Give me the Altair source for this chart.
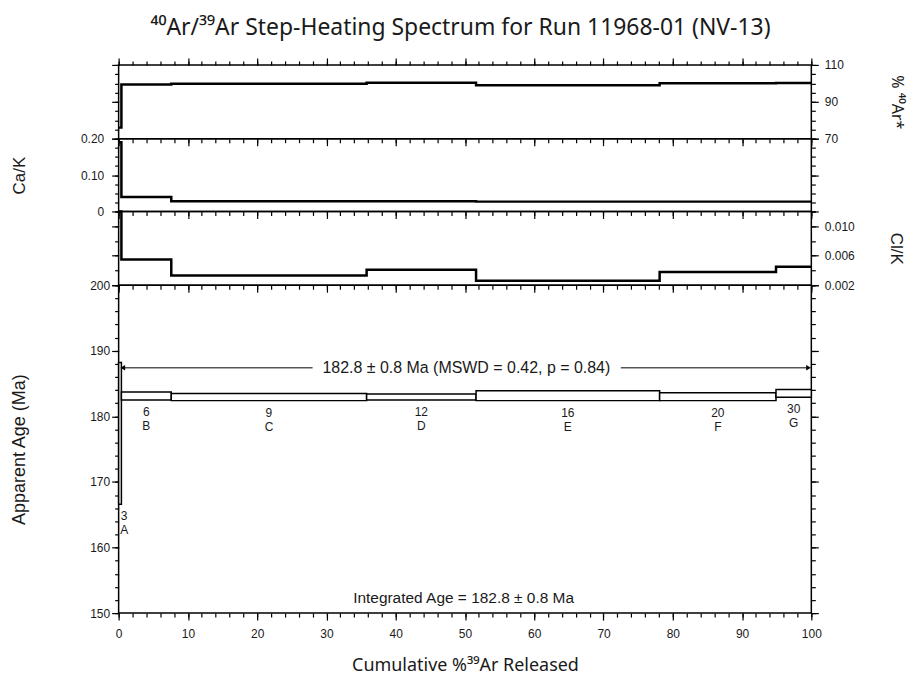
import altair as alt
import pandas as pd

# ---------------- data ----------------
step_letters = ["A", "B", "C", "D", "E", "F", "G"]
step_numbers = ["3", "6", "9", "12", "16", "20", "30"]
cum_start = [0.0, 0.4, 7.6, 35.8, 51.6, 78.1, 94.9]
cum_end = [0.4, 7.6, 35.8, 51.6, 78.1, 94.9, 100.0]
pct_rad = [76.0, 99.4, 99.8, 100.3, 99.0, 100.1, 100.2]          # % 40Ar*
ca_k = [0.19, 0.040, 0.028, 0.028, 0.027, 0.027, 0.027]            # Ca/K
cl_k = [0.012, 0.0055, 0.0033, 0.0041, 0.0026, 0.0038, 0.0045]     # Cl/K
age_low = [166.6, 182.5, 182.4, 182.5, 182.4, 182.4, 182.9]        # Ma (-2 sigma)
age_high = [188.2, 183.7, 183.5, 183.4, 183.9, 183.6, 184.1]       # Ma (+2 sigma)

plateau_age, plateau_err, plateau_mswd, plateau_p = 182.8, 0.8, 0.42, 0.84
integrated_age, integrated_err = 182.8, 0.8

# tick values
x_minor = list(range(0, 101, 2))
x_major = list(range(0, 101, 10))
pct_minor = list(range(70, 111, 5))
pct_major = [70, 90, 110]
cak_minor = [0.0, 0.025, 0.05, 0.075, 0.1, 0.125, 0.15, 0.175, 0.2]
cak_major = [0.0, 0.1, 0.2]
clk_minor = [0.002, 0.004, 0.006, 0.008, 0.010, 0.012]
clk_major = [0.002, 0.006, 0.010]
age_minor = list(range(150, 201, 2))
age_major = list(range(150, 201, 10))

# annotation anchor positions (data units)
PLATEAU_Y = 187.4
PLATEAU_TEXT_X = 50.2
ARROW_LEFT = (28.0, 0.6)
ARROW_RIGHT = (72.5, 99.6)
INTEGRATED_X, INTEGRATED_Y = 49.8, 152.3

# ---------------- style ----------------
FONT = "Liberation Sans"
SUP_FONT = "Noto Sans"          # has proper superscript digits
INK = "#1a1a1a"
W = 695
H_PCT, H_CAK, H_CLK, H_AGE = 74, 73, 74, 329
MINOR, MAJOR = 4, 7

xs = alt.Scale(domain=[0, 100], nice=False, zero=False)


def axis(orient, values, size, labels=False, pad=2, fmt=None, label_expr=None,
         title=None, title_x=None, title_y=None, title_angle=None, title_size=17,
         title_font=FONT):
    kw = dict(orient=orient, values=values, tickSize=size, tickColor="black",
              tickWidth=1.2, domain=False, grid=False, labels=labels,
              labelFlush=False, labelFont=FONT, labelFontSize=12,
              labelColor=INK, labelPadding=pad, title=title)
    if fmt is not None:
        kw["format"] = fmt
    if label_expr is not None:
        kw["labelExpr"] = label_expr
    if title is not None:
        kw.update(titleX=title_x, titleY=title_y, titleAngle=title_angle,
                  titleFont=title_font, titleFontSize=title_size,
                  titleFontWeight="normal", titleColor=INK,
                  titleAlign="center", titleBaseline="middle")
    return alt.Axis(**kw)


def ghost(df, ys, xaxis, yaxis):
    return alt.Chart(df).mark_point(opacity=0).encode(
        x=alt.X("x:Q", scale=xs, axis=xaxis),
        y=alt.Y("y:Q", scale=ys, axis=yaxis),
    )


def step_df(values):
    return pd.DataFrame({"x": cum_start + [cum_end[-1]],
                         "y": values + [values[-1]]})


def step_line(df, ys):
    return alt.Chart(df).mark_line(
        interpolate="step-after", color="black", strokeWidth=2.5
    ).encode(
        x=alt.X("x:Q", scale=xs, axis=None),
        y=alt.Y("y:Q", scale=ys, axis=None),
    )


# ---------------- panel 1 : % 40Ar* ----------------
ys_pct = alt.Scale(domain=[70, 110], nice=False, zero=False)
df_pct = step_df(pct_rad)
p1 = alt.layer(
    step_line(df_pct, ys_pct),
    ghost(df_pct, ys_pct, axis("top", x_minor, MINOR), axis("left", pct_minor, MINOR)),
    ghost(df_pct, ys_pct, axis("top", x_major, MAJOR), axis("left", pct_major, MAJOR)),
    ghost(df_pct, ys_pct, axis("bottom", x_minor, MINOR), axis("right", pct_minor, MINOR)),
    ghost(df_pct, ys_pct, axis("bottom", x_major, MAJOR),
          axis("right", pct_major, MAJOR, labels=True, pad=6, fmt="d",
               title="% ⁴⁰Ar*", title_x=85, title_y=H_PCT / 2, title_angle=90,
               title_size=16, title_font=SUP_FONT)),
).resolve_axis(x="independent", y="independent").properties(width=W, height=H_PCT)

# ---------------- panel 2 : Ca/K ----------------
ys_cak = alt.Scale(domain=[0, 0.2], nice=False, zero=False)
df_cak = step_df(ca_k)
p2 = alt.layer(
    step_line(df_cak, ys_cak),
    ghost(df_cak, ys_cak, axis("bottom", x_minor, MINOR), axis("left", cak_minor, MINOR)),
    ghost(df_cak, ys_cak, axis("bottom", x_major, MAJOR),
          axis("left", cak_major, MAJOR, labels=True, pad=8,
               label_expr="datum.value == 0 ? '0' : format(datum.value, '.2f')",
               title="Ca/K", title_x=-99, title_y=H_CAK / 2, title_angle=270)),
    ghost(df_cak, ys_cak, None, axis("right", cak_minor, MINOR)),
    ghost(df_cak, ys_cak, None, axis("right", cak_major, MAJOR)),
).resolve_axis(x="independent", y="independent").properties(width=W, height=H_CAK)

# ---------------- panel 3 : Cl/K ----------------
ys_clk = alt.Scale(domain=[0.002, 0.012], nice=False, zero=False)
df_clk = step_df(cl_k)
p3 = alt.layer(
    step_line(df_clk, ys_clk),
    ghost(df_clk, ys_clk, axis("bottom", x_minor, MINOR), axis("left", clk_minor, MINOR)),
    ghost(df_clk, ys_clk, axis("bottom", x_major, MAJOR), axis("left", clk_major, MAJOR)),
    ghost(df_clk, ys_clk, None, axis("right", clk_minor, MINOR)),
    ghost(df_clk, ys_clk, None,
          axis("right", clk_major, MAJOR, labels=True, pad=6, fmt=".3f",
               title="Cl/K", title_x=84, title_y=H_CLK / 2, title_angle=90)),
).resolve_axis(x="independent", y="independent").properties(width=W, height=H_CLK)

# ---------------- panel 4 : apparent age ----------------
ys_age = alt.Scale(domain=[150, 200], nice=False, zero=False)
mids = [(a + b) / 2 for a, b in zip(cum_start, cum_end)]
df_age = pd.DataFrame({
    "x0": cum_start, "x1": cum_end, "lo": age_low, "hi": age_high,
    "num": step_numbers, "let": step_letters,
    "lx": [max(m, 0.8) for m in mids],
    "x": mids, "y": [(a + b) / 2 for a, b in zip(age_low, age_high)],
})

boxes = alt.Chart(df_age).mark_rect(fill="white", stroke="black", strokeWidth=1.5).encode(
    x=alt.X("x0:Q", scale=xs, axis=None), x2="x1:Q",
    y=alt.Y("lo:Q", scale=ys_age, axis=None), y2="hi:Q",
)
num_text = alt.Chart(df_age).mark_text(
    font=FONT, fontSize=12, color=INK, baseline="middle", dy=12
).encode(x=alt.X("lx:Q", scale=xs, axis=None), y=alt.Y("lo:Q", scale=ys_age, axis=None), text="num:N")
let_text = alt.Chart(df_age).mark_text(
    font=FONT, fontSize=12, color=INK, baseline="middle", dy=26
).encode(x=alt.X("lx:Q", scale=xs, axis=None), y=alt.Y("lo:Q", scale=ys_age, axis=None), text="let:N")

ann = pd.DataFrame({
    "x": [PLATEAU_TEXT_X, INTEGRATED_X],
    "y": [PLATEAU_Y, INTEGRATED_Y],
    "t": [f"{plateau_age} ± {plateau_err} Ma (MSWD = {plateau_mswd}, p = {plateau_p})",
          f"Integrated Age = {integrated_age} ± {integrated_err} Ma"],
    "fs": [16, 15.5],
})
ann_text = alt.Chart(ann).mark_text(font=FONT, color=INK, baseline="middle").encode(
    x=alt.X("x:Q", scale=xs, axis=None), y=alt.Y("y:Q", scale=ys_age, axis=None), text="t:N",
    size=alt.Size("fs:Q", scale=None, legend=None))

arr = pd.DataFrame({"a": [ARROW_LEFT[0], ARROW_RIGHT[0]], "b": [ARROW_LEFT[1], ARROW_RIGHT[1]],
                    "y": [PLATEAU_Y, PLATEAU_Y]})
arrow_lines = alt.Chart(arr).mark_rule(color="black", strokeWidth=1).encode(
    x=alt.X("a:Q", scale=xs, axis=None), x2="b:Q", y=alt.Y("y:Q", scale=ys_age, axis=None))
heads = pd.DataFrame({"x": [ARROW_LEFT[1], ARROW_RIGHT[1]], "y": [PLATEAU_Y, PLATEAU_Y],
                      "s": ["triangle-left", "triangle-right"]})
arrow_heads = alt.Chart(heads).mark_point(filled=True, color="black", size=30, opacity=1).encode(
    x=alt.X("x:Q", scale=xs, axis=None), y=alt.Y("y:Q", scale=ys_age, axis=None),
    shape=alt.Shape("s:N", scale=alt.Scale(domain=["triangle-left", "triangle-right"],
                                           range=["triangle-left", "triangle-right"]), legend=None))

p4 = alt.layer(
    boxes, num_text, let_text, ann_text, arrow_lines, arrow_heads,
    ghost(df_age, ys_age, axis("bottom", x_minor, MINOR), axis("left", age_minor, MINOR)),
    ghost(df_age, ys_age,
          axis("bottom", x_major, MAJOR, labels=True, pad=8, fmt="d",
               title="Cumulative %³⁹Ar Released", title_x=W / 2, title_y=53,
               title_angle=0, title_size=18, title_font=SUP_FONT),
          axis("left", age_major, MAJOR, labels=True, pad=2, fmt="d",
               title="Apparent Age (Ma)", title_x=-99, title_y=H_AGE / 2,
               title_angle=270, title_size=18)),
    ghost(df_age, ys_age, None, axis("right", age_minor, MINOR)),
    ghost(df_age, ys_age, None, axis("right", age_major, MAJOR)),
).resolve_axis(x="independent", y="independent").properties(width=W, height=H_AGE)

chart = alt.vconcat(p1, p2, p3, p4, spacing=0, bounds="flush").properties(
    title=alt.TitleParams(
        text="⁴⁰Ar/³⁹Ar Step-Heating Spectrum for Run 11968-01 (NV-13)",
        font=SUP_FONT, fontSize=23, fontWeight="normal", color=INK,
        anchor="middle", offset=17, dx=3),
    padding={"left": 2, "top": 7, "right": 6, "bottom": 5},
    background="white",
).configure_view(stroke="black", strokeWidth=1.5)

chart.save("out.html", embed_options={"renderer": "svg", "actions": False})
